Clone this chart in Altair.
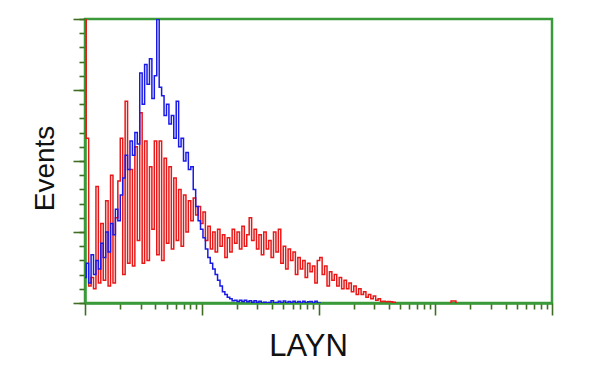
import altair as alt
import pandas as pd

# Histogram channels: 48 channels per decade on a 4-decade log axis (1 .. 10^4)
CH_PER_DECADE = 48

blue_counts = [9, 14, 7, 17, 10, 15, 12, 21, 16, 25, 18, 28, 24, 33, 29, 38, 44, 52, 47, 57,
               52, 60, 56, 81, 70, 84, 77, 86, 72, 80, 100, 76, 73, 66, 70, 63, 66, 58, 71, 55,
               58, 50, 53, 47, 48, 40, 34, 29, 26, 23, 19, 16, 14, 12, 10, 8, 6, 4, 3, 2,
               1.5, 0.8, 1, 0.5, 1, 0.5, 1, 0.4, 0.8, 0.3, 0.8, 0.3, 0.6, 0, 0.3, 0, 0.2, 0.8, 0, 0.2,
               0.6, 0, 0.7, 0, 0.5, 0.2, 0.6, 0, 0.5, 0, 0.6, 0, 0.4, 0.5, 0, 0.6, 0, 0]

red_counts = [130, 58, 6, 9, 5, 41, 7, 28, 8, 36, 6, 45, 7, 30, 43, 58, 10, 71, 14, 47,
              13, 55, 22, 67, 14, 57, 15, 48, 26, 57, 17, 57, 15, 51, 21, 48, 19, 44, 22, 40,
              20, 38, 25, 36, 29, 37, 31, 34, 28, 32, 22, 27, 19, 25, 18, 26, 20, 24, 16, 23,
              18, 26, 21, 25, 19, 27, 20, 24, 30, 22, 26, 19, 24, 17, 25, 19, 22, 16, 25, 18,
              26, 14, 20, 12, 19, 15, 18, 10, 16, 12, 15, 9, 14, 11, 13, 7, 15, 16, 10, 13,
              6, 11, 8, 10, 6, 9, 5, 8, 5, 7, 4, 6, 3, 5, 3, 4, 2, 3, 1.5, 2.5,
              1, 1.5, 0.5, 0.6, 0.4, 0.5, 0.4, 0.3, 0]
red_tail_start = 150
red_tail_counts = [0, 0.7, 0.7, 0]

x_major = [1, 10, 100, 1000, 10000]
x_minor = [m * d for d in [1, 10, 100, 1000] for m in range(2, 10)]
y_major = [0, 25, 50, 75, 100]
y_minor = list(range(0, 101, 5))

rows = []
for i, v in enumerate(red_counts):
    rows.append({"ch": 10 ** (i / CH_PER_DECADE), "count": v, "series": "red", "seg": "r1"})
for j, v in enumerate(red_tail_counts):
    rows.append({"ch": 10 ** ((red_tail_start + j) / CH_PER_DECADE), "count": v, "series": "red", "seg": "r2"})
for i, v in enumerate(blue_counts):
    rows.append({"ch": 10 ** (i / CH_PER_DECADE), "count": v, "series": "blue", "seg": "b1"})
df = pd.DataFrame(rows)

FRAME = "#3a9a3a"
TICK = "#3f6e22"

xs = alt.Scale(type="log", domain=[1, 10000], nice=False)
ys = alt.Scale(domain=[0, 100], nice=False, zero=True)

red_layer = alt.Chart(df).transform_filter(alt.datum.series == "red").mark_line(
    interpolate="step", clip=True, color="#e81818", strokeWidth=1.5
).encode(
    x=alt.X("ch:Q", scale=xs, axis=alt.Axis(orient="bottom", values=x_minor, labels=False, tickSize=6,
                                             tickWidth=1.6, tickColor=TICK, domainColor=FRAME,
                                             domainWidth=2, grid=False, title="")),
    y=alt.Y("count:Q", scale=ys, axis=alt.Axis(orient="left", values=y_minor, labels=False, tickSize=6,
                                                tickWidth=1.6, tickColor=TICK, domainColor=FRAME,
                                                domainWidth=2, grid=False, title="")),
    detail="seg:N",
)

blue_layer = alt.Chart(df).transform_filter(alt.datum.series == "blue").mark_line(
    interpolate="step", clip=True, color="#1a1ae6", strokeWidth=1.5
).encode(
    x=alt.X("ch:Q", scale=xs, axis=alt.Axis(orient="bottom", values=x_major, labels=False, tickSize=12,
                                             tickWidth=1.6, tickColor=TICK, domainColor=FRAME,
                                             domainWidth=2, grid=False, title="LAYN",
                                             titleFontSize=31, titleFont="Liberation Sans",
                                             titleFontWeight="normal", titleColor="#111111",
                                             titleX=223, titleY=52, titleBaseline="alphabetic",
                                             titleAlign="center")),
    y=alt.Y("count:Q", scale=ys, axis=alt.Axis(orient="left", values=y_major, labels=False, tickSize=12,
                                                tickWidth=1.6, tickColor=TICK, domainColor=FRAME,
                                                domainWidth=2, grid=False, title="Events",
                                                titleFontSize=28, titleFont="Liberation Sans",
                                                titleFontWeight="normal", titleColor="#111111",
                                                titleX=-32, titleY=149, titleBaseline="alphabetic",
                                                titleAlign="center", titleAngle=270)),
    detail="seg:N",
)

chart = alt.layer(red_layer, blue_layer).resolve_axis(x="independent", y="independent").properties(
    width=467, height=284,
    autosize=alt.AutoSizeParams(type="none"),
    padding={"left": 85, "top": 19, "right": 48, "bottom": 72},
    background="white",
).configure_view(stroke=FRAME, strokeWidth=2.5)

chart.save("out.html", embed_options={"renderer": "svg", "actions": False})
